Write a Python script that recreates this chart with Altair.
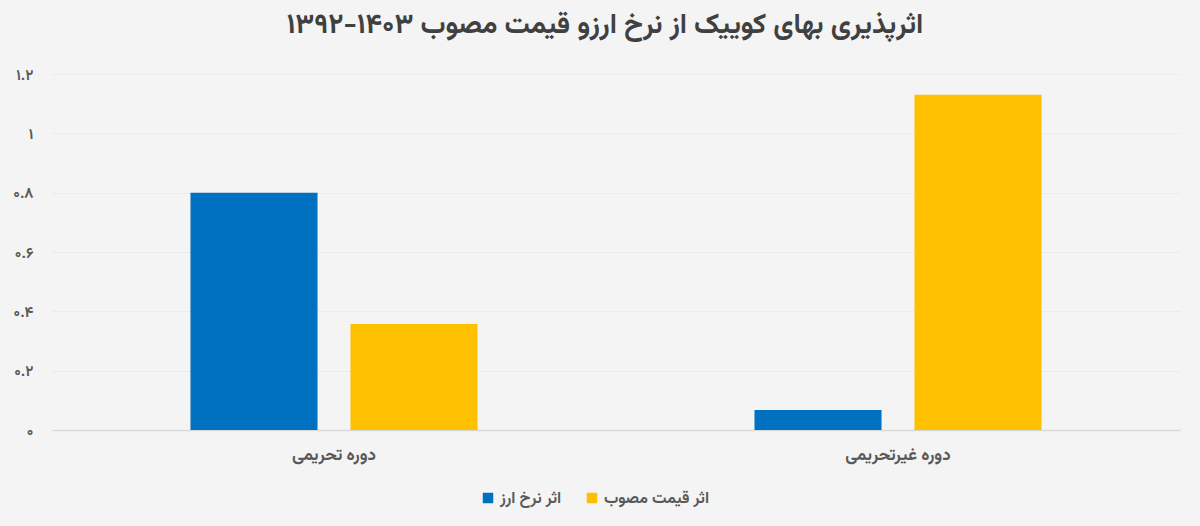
import altair as alt
import pandas as pd

categories = ["دوره تحریمی", "دوره غیرتحریمی"]
series = ["اثر نرخ ارز", "اثر قیمت مصوب"]
fx_effect = [0.80, 0.067]
price_effect = [0.357, 1.13]
colors = ["#0070C0", "#FFC000"]
tick_values = [0, 0.2, 0.4, 0.6, 0.8, 1.0, 1.2]
tick_labels = ["۰", "۰.۲", "۰.۴", "۰.۶", "۰.۸", "۱", "۱.۲"]
title_text = "اثرپذیری بهای کوییک از نرخ ارزو قیمت مصوب ۱۴۰۳-۱۳۹۲"

rows = []
for i, c in enumerate(categories):
    rows.append({"cat": c, "series": series[0], "value": fx_effect[i]})
    rows.append({"cat": c, "series": series[1], "value": price_effect[i]})
df = pd.DataFrame(rows)

label_expr = " : ".join(
    [f"abs(datum.value - {v}) < 0.001 ? '{l}'" for v, l in zip(tick_values, tick_labels)]
) + " : ''"

FONT = "Vazirmatn, DejaVu Sans, sans-serif"

chart = alt.Chart(df).mark_bar().encode(
    x=alt.X("cat:N", sort=categories,
            scale=alt.Scale(paddingInner=0, paddingOuter=0),
            axis=alt.Axis(title=None, labelAngle=0, ticks=False, labelPadding=16,
                          labelFontSize=17, labelFontWeight="bold", labelColor="#595959",
                          labelFont=FONT, domain=True, domainColor="#d9d9d9", domainWidth=1.5,
                          grid=False)),
    xOffset=alt.XOffset("series:N", sort=series,
                        scale=alt.Scale(paddingInner=0.206, paddingOuter=0.8656)),
    y=alt.Y("value:Q", scale=alt.Scale(domain=[0, 1.2], nice=False),
            axis=alt.Axis(title=None, values=tick_values, labelExpr=label_expr,
                          ticks=False, domain=False, labelPadding=19,
                          labelFontSize=15, labelFontWeight="bold", labelColor="#595959",
                          labelFont=FONT, grid=True, gridColor="#ebebeb", gridWidth=1)),
    color=alt.Color("series:N", sort=series,
                    scale=alt.Scale(domain=series, range=colors),
                    legend=alt.Legend(title=None, orient="none", direction="horizontal",
                                      legendX=428, legendY=416,
                                      symbolType="square", symbolSize=110,
                                      symbolStrokeWidth=0, columnPadding=22,
                                      labelFontSize=16, labelFontWeight="bold",
                                      labelColor="#595959", labelFont=FONT)),
).properties(
    width=1128, height=356,
    title=alt.TitleParams(title_text, fontSize=28, fontWeight="bold", color="#404040",
                          font=FONT, anchor="middle", offset=28, dx=-11),
    background="#f4f4f4",
    autosize=alt.AutoSizeParams(type="none"),
    padding={"left": 52, "top": 74, "right": 20, "bottom": 96},
).configure_view(stroke=None)

chart.save("out.html", embed_options={"renderer": "svg", "actions": False})
